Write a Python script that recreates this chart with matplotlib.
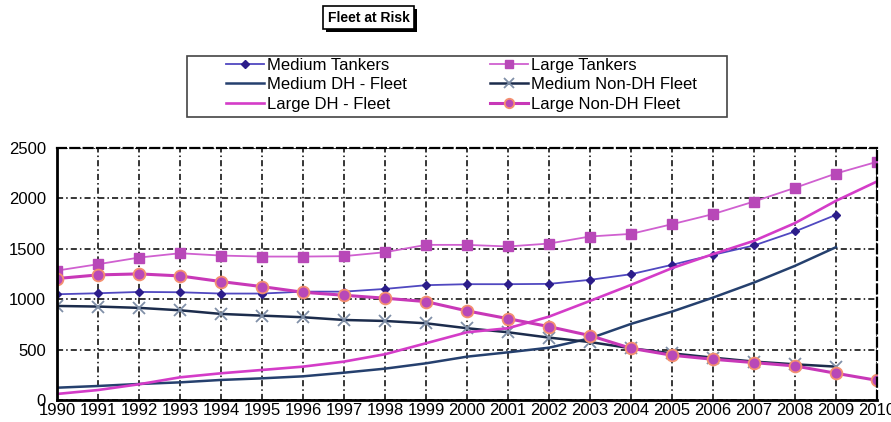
import matplotlib
matplotlib.use("Agg")
import matplotlib.pyplot as plt
from matplotlib.patches import Rectangle

plt.rcParams['font.family'] = ['Liberation Sans', 'DejaVu Sans']

years = list(range(1990, 2011))

medium_tankers = [1049, 1059, 1072, 1069, 1056, 1056, 1075, 1075, 1102, 1139, 1149,
                  1149, 1152, 1192, 1248, 1341, 1440, 1533, 1672, 1837]
large_tankers = [1284, 1347, 1413, 1456, 1433, 1423, 1423, 1427, 1466, 1539, 1539,
                 1523, 1552, 1622, 1648, 1744, 1844, 1969, 2105, 2247, 2363]
medium_dh = [122, 139, 159, 175, 199, 215, 235, 271, 311, 364, 430,
             473, 519, 612, 755, 877, 1016, 1165, 1331, 1516]
medium_non_dh = [933, 927, 914, 890, 854, 837, 821, 794, 784, 761, 712,
                 672, 619, 575, 513, 463, 420, 381, 354, 331]
large_dh = [60, 99, 156, 225, 265, 298, 331, 381, 454, 563, 672,
            712, 827, 983, 1142, 1308, 1447, 1579, 1755, 1976, 2168]
large_non_dh = [1205, 1241, 1251, 1231, 1175, 1125, 1069, 1039, 1010, 976, 884,
                807, 728, 639, 513, 444, 404, 371, 338, 265, 195]

W, H = 891, 422
fig = plt.figure(figsize=(W / 100, H / 100), dpi=100)
ax = fig.add_axes([57/W, 1 - 400/H, (877 - 57)/W, (400 - 148)/H])

def yrs(vals):
    return years[:len(vals)]

ax.plot(yrs(medium_tankers), medium_tankers, color='#5048c0', lw=1.3,
        marker='D', ms=4.5, mfc='#2c1d8a', mec='#2c1d8a', label='Medium Tankers')
ax.plot(yrs(large_tankers), large_tankers, color='#d060d0', lw=1.3,
        marker='s', ms=7, mfc='#b848b8', mec='#b848b8', label='Large Tankers')
ax.plot(yrs(medium_dh), medium_dh, color='#25406e', lw=1.8, label='Medium DH - Fleet')
ax.plot(yrs(medium_non_dh), medium_non_dh, color='#1c2c4c', lw=1.8,
        marker='x', ms=9, mew=1.3, mec='#8090a8', label='Medium Non-DH Fleet')
ax.plot(yrs(large_dh), large_dh, color='#d43cc8', lw=1.9, label='Large DH - Fleet')
ax.plot(yrs(large_non_dh), large_non_dh, color='#c838b8', lw=2.2,
        marker='o', ms=8.5, mfc='#b848b8', mec='#f49070', mew=1.3, label='Large Non-DH Fleet')

ax.set_xlim(1990, 2010)
ax.set_ylim(0, 2500)
ax.set_xticks(years)
ax.set_yticks(range(0, 2501, 500))
ax.tick_params(axis='both', labelsize=12, length=0)
ax.tick_params(axis='y', pad=8)
ax.tick_params(axis='x', pad=2.5)
ax.grid(True, color='black', linestyle=(0, (4, 2, 1, 2)), lw=1.1)

for side in ('left', 'bottom'):
    ax.spines[side].set_linewidth(2.0)
    ax.spines[side].set_color('black')
for side in ('top', 'right'):
    ax.spines[side].set_linestyle((0, (4, 2)))
    ax.spines[side].set_linewidth(1.6)

def px_rect(x0, y0, x1, y1, **kw):
    return Rectangle((x0 / W, 1 - y1 / H), (x1 - x0) / W, (y1 - y0) / H,
                     transform=fig.transFigure, **kw)

# title box with drop shadow
fig.patches.append(px_rect(326, 9, 417, 32, fc='black', ec='none', zorder=0))
fig.patches.append(px_rect(323, 6, 414, 29, fc='white', ec='black', lw=1.2, zorder=1))
fig.text(368.5/W, 1 - 18/H, 'Fleet at Risk', ha='center', va='center',
         fontsize=10, fontweight='bold', zorder=2)

# legend frame
fig.patches.append(px_rect(187, 56, 727, 117, fc='white', ec='#444444', lw=1.2, zorder=0))

handles, labels = ax.get_legend_handles_labels()
order = [0, 2, 4, 1, 3, 5]
leg = fig.legend([handles[i] for i in order], [labels[i] for i in order],
                 ncol=2, loc='upper left', bbox_to_anchor=(226/W, 1 - 58/H),
                 frameon=False, fontsize=12, handlelength=2.3,
                 handletextpad=0.15, columnspacing=5.0, borderpad=0.0, labelspacing=0.26,
                 borderaxespad=0, markerscale=0.8)

fig.savefig('out.png', dpi=100)
